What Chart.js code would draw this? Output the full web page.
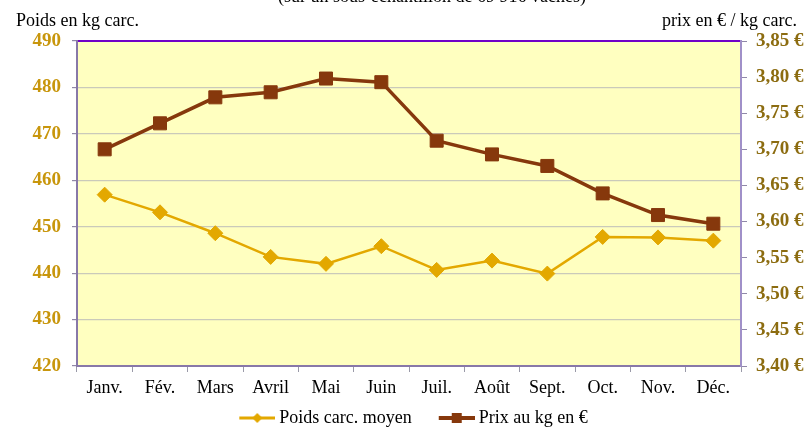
<!DOCTYPE html>
<html>
<head>
<meta charset="utf-8">
<script src="https://cdn.jsdelivr.net/npm/chart.js@4.4.1/dist/chart.umd.min.js"></script>
<style>
  html, body { margin: 0; padding: 0; background: #ffffff; }
  #wrap { width: 810px; height: 427px; position: relative; }
</style>
</head>
<body>
<div id="wrap"><canvas id="poidsChart" width="810" height="427"></canvas></div>
<script>
// Données
const mois = ['Janv.', 'Fév.', 'Mars', 'Avril', 'Mai', 'Juin', 'Juil.', 'Août', 'Sept.', 'Oct.', 'Nov.', 'Déc.'];
const poidsCarc = [456.9, 453.1, 448.6, 443.5, 442.0, 445.8, 440.7, 442.7, 439.9, 447.8, 447.7, 447.0];
const prixKg = [3.700, 3.736, 3.772, 3.779, 3.798, 3.793, 3.712, 3.693, 3.677, 3.639, 3.609, 3.597];
const poidsTicks = [420, 430, 440, 450, 460, 470, 480, 490];
const prixTicks = [3.40, 3.45, 3.50, 3.55, 3.60, 3.65, 3.70, 3.75, 3.80, 3.85];

const GOLD = '#E3A800';
const BROWN = '#86380C';
const SERIF = '"Liberation Serif", "Times New Roman", serif';

// petits symboles de légende : marge transparente + trait + marqueur
function legendSymbol(color, shape, lw) {
    const c = document.createElement('canvas');
    c.width = 58; c.height = 16;
    const g = c.getContext('2d');
    g.strokeStyle = color;
    g.fillStyle = color;
    g.lineWidth = lw;
    g.beginPath();
    g.moveTo(22, 8); g.lineTo(58, 8);
    g.stroke();
    g.beginPath();
    if (shape === 'diamond') {
        g.moveTo(40, 3); g.lineTo(45, 8); g.lineTo(40, 13); g.lineTo(35, 8);
    } else {
        g.rect(35, 3, 10, 10);
    }
    g.closePath();
    g.fill();
    return c;
}
const legendIcons = [legendSymbol(GOLD, 'diamond', 3), legendSymbol(BROWN, 'square', 4)];

// fond jaune de la zone de tracé + textes d'en-tête
const decor = {
    id: 'decor',
    beforeDraw(chart) {
        const { ctx, chartArea: a } = chart;
        ctx.save();
        ctx.fillStyle = '#FFFFC0';
        ctx.fillRect(a.left, a.top, a.right - a.left, a.bottom - a.top);
        ctx.restore();
    },
    afterDraw(chart) {
        const { ctx } = chart;
        ctx.save();
        ctx.fillStyle = '#000';
        ctx.font = '18px ' + SERIF;
        ctx.textBaseline = 'alphabetic';
        ctx.textAlign = 'center';
        ctx.fillText('(sur un sous-échantillon de 69 916 vaches)', 432, 2);
        ctx.textAlign = 'left';
        ctx.fillText('Poids en kg carc.', 16, 26);
        ctx.textAlign = 'right';
        ctx.fillText('prix en € / kg carc.', 797, 26);
        ctx.restore();
    }
};

const config = {
    type: 'line',
    data: {
        labels: mois,
        datasets: [
            {
                label: 'Poids carc. moyen',
                data: poidsCarc,
                yAxisID: 'yPoids',
                borderColor: GOLD,
                backgroundColor: GOLD,
                borderWidth: 2.5,
                pointStyle: 'rectRot',
                pointRadius: 7.5,
                pointBorderWidth: 1,
                tension: 0,
            },
            {
                label: 'Prix au kg en €',
                data: prixKg,
                yAxisID: 'yPrix',
                borderColor: BROWN,
                backgroundColor: BROWN,
                borderWidth: 3.5,
                pointStyle: 'rect',
                pointRadius: 9.2,
                pointBorderWidth: 1,
                tension: 0,
            },
        ],
    },
    options: {
        responsive: false,
        animation: false,
        layout: { padding: { top: 41, left: 0, right: 0, bottom: -10 } },
        scales: {
            x: {
                position: 'bottom',
                offset: true,
                grid: { offset: true, drawOnChartArea: false, tickLength: 6, color: '#9a9aa8' },
                border: { color: '#8878A8', width: 2 },
                ticks: { color: '#000', font: { family: SERIF, size: 18 }, padding: 5, maxRotation: 0, autoSkip: false },
                afterFit(scale) { scale.height = 33; },
            },
            xTop: {
                position: 'top',
                type: 'category',
                labels: mois,
                offset: true,
                grid: { display: false },
                border: { color: '#7000C8', width: 2 },
                ticks: { display: false },
                afterFit(scale) { scale.height = 0; },
            },
            yPoids: {
                position: 'left',
                min: poidsTicks[0],
                max: poidsTicks[poidsTicks.length - 1],
                afterBuildTicks(scale) { scale.ticks = poidsTicks.map((v) => ({ value: v })); },
                grid: {
                    color: (c) => (c.tick && (c.tick.value === 490 || c.tick.value === 420) ? 'rgba(0,0,0,0)' : '#CACABA'),
                    tickColor: '#9088A8',
                    tickLength: 5,
                    lineWidth: 1.2,
                },
                border: { color: '#8878A8', width: 2 },
                ticks: { color: '#C8960C', font: { family: SERIF, size: 19, weight: 'bold' }, padding: 11 },
                afterFit(scale) { scale.width = 77; },
            },
            yPrix: {
                position: 'right',
                min: prixTicks[0],
                max: prixTicks[prixTicks.length - 1],
                afterBuildTicks(scale) { scale.ticks = prixTicks.map((v) => ({ value: v })); },
                grid: { drawOnChartArea: false, tickLength: 6, color: '#9088A8' },
                border: { color: '#A090C8', width: 2 },
                ticks: {
                    color: '#8C6C10',
                    font: { family: SERIF, size: 19, weight: 'bold' },
                    padding: 9,
                    callback: (v) => Number(v).toFixed(2).replace('.', ',') + ' €',
                },
                afterFit(scale) { scale.width = 69; },
            },
        },
        plugins: {
            legend: {
                display: true,
                position: 'bottom',
                labels: {
                    usePointStyle: true,
                    pointStyleWidth: 48,
                    color: '#000',
                    font: { family: SERIF, size: 18 },
                    padding: 10,
                    generateLabels(chart) {
                        const items = Chart.defaults.plugins.legend.labels.generateLabels(chart);
                        items.forEach((it, i) => { it.pointStyle = legendIcons[i]; });
                        return items;
                    },
                },
            },
            tooltip: { enabled: false },
        },
    },
    plugins: [decor],
};

const poidsChart = new Chart(document.getElementById('poidsChart'), config);
</script>
</body>
</html>
